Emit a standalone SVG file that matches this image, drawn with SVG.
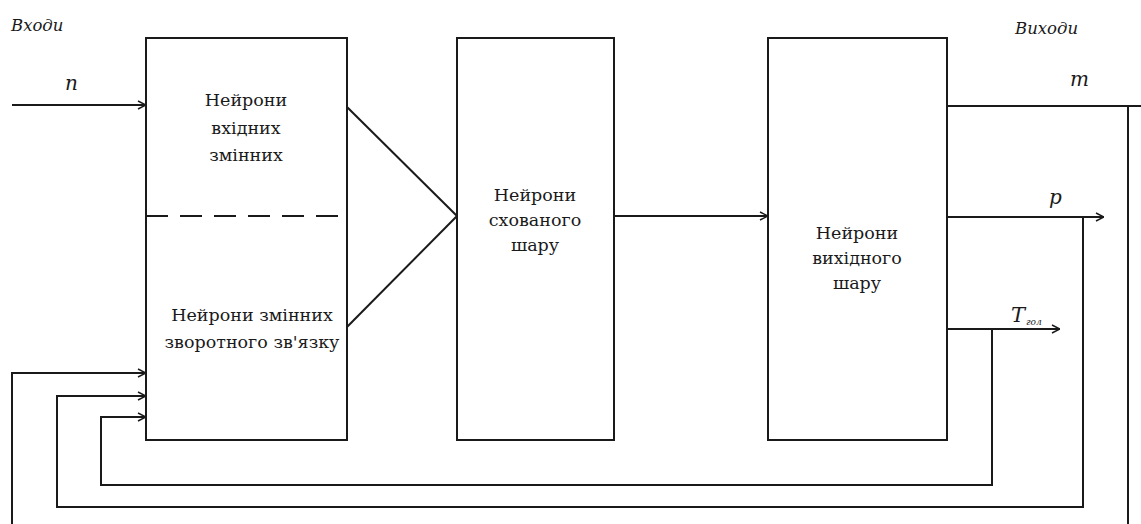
<svg xmlns="http://www.w3.org/2000/svg" width="1141" height="524" viewBox="0 0 1141 524">
<defs>
<style>
.ln{fill:none;stroke:#1a1a1a;stroke-width:2}
.bx{fill:#fff;stroke:#1a1a1a;stroke-width:2}
.t{font-family:'DejaVu Serif',serif;font-size:17.5px;fill:#1a1a1a;text-anchor:middle}
.it{font-family:'DejaVu Serif',serif;font-style:italic;fill:#1a1a1a}
</style>
<marker id="ar" viewBox="0 0 10 10" refX="10" refY="5" markerWidth="10" markerHeight="10" markerUnits="userSpaceOnUse" orient="auto">
<path d="M2,1 L10,5 L2,9" fill="none" stroke="#1a1a1a" stroke-width="1.5"/>
</marker>
</defs>
<rect width="1141" height="524" fill="#fff"/>
<g id="connectors">
<path class="ln" d="M12,105 H146" marker-end="url(#ar)"/>
<path class="ln" d="M347,107 L457,216"/>
<path class="ln" d="M347,327 L457,216"/>
<path class="ln" d="M614,216 H768" marker-end="url(#ar)"/>
<path class="ln" d="M947,106 H1141"/>
<path class="ln" d="M1128,106 V524"/>
<path class="ln" d="M947,217 H1104" marker-end="url(#ar)"/>
<path class="ln" d="M1083,217 V507 H57 V396 H146" marker-end="url(#ar)"/>
<path class="ln" d="M947,329 H1060" marker-end="url(#ar)"/>
<path class="ln" d="M992,329 V485 H101 V417 H146" marker-end="url(#ar)"/>
<path class="ln" d="M12,524 V373 H146" marker-end="url(#ar)"/>
</g>
<g id="input-box">
<rect class="bx" x="146" y="38" width="201" height="402"/>
<line x1="146" y1="216" x2="347" y2="216" stroke="#1a1a1a" stroke-width="2" stroke-dasharray="22,12"/>
<text class="t" x="246" y="106">Нейрони</text>
<text class="t" x="246" y="134">вхідних</text>
<text class="t" x="246" y="161">змінних</text>
<text class="t" x="252" y="321">Нейрони змінних</text>
<text class="t" x="252" y="348">зворотного зв'язку</text>
</g>
<g id="hidden-box">
<rect class="bx" x="457" y="38" width="157" height="402"/>
<text class="t" x="535" y="201">Нейрони</text>
<text class="t" x="535" y="226">схованого</text>
<text class="t" x="535" y="251">шару</text>
</g>
<g id="output-box">
<rect class="bx" x="768" y="38" width="179" height="402"/>
<text class="t" x="857" y="239">Нейрони</text>
<text class="t" x="857" y="264">вихідного</text>
<text class="t" x="857" y="289">шару</text>
</g>
<g id="labels">
<text class="it" x="11" y="31" font-size="16.5">Входи</text>
<text class="it" x="65" y="90" font-size="20">n</text>
<text class="it" x="1015" y="34" font-size="16.5">Виходи</text>
<text class="it" x="1070" y="86" font-size="20">m</text>
<text class="it" x="1049" y="204" font-size="20">p</text>
<text class="it" x="1011" y="322" font-size="21">T<tspan font-size="9" dx="1" dy="3">гол</tspan></text>
</g>
</svg>
